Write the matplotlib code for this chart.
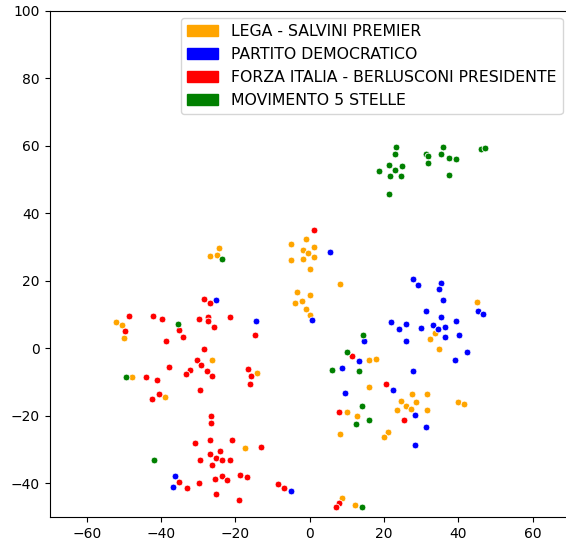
import matplotlib
matplotlib.use("Agg")
import matplotlib.pyplot as plt
import matplotlib.patches as mpatches

PARTITI = [
    "LEGA - SALVINI PREMIER",
    "PARTITO DEMOCRATICO",
    "FORZA ITALIA - BERLUSCONI PRESIDENTE",
    "MOVIMENTO 5 STELLE",
]
COLORI = ["orange", "blue", "red", "green"]

# coordinate t-SNE
lega_x = [-24.3, -26.9, -25.0, -52.2, -50.4, -49.9, -26.2, -14.1, -47.8, -38.9, -17.3,
          -1.0, -5.0, 1.3, -1.8, -0.5, 1.3, -5.0, -1.8, 0.2, 8.1, -3.4, 0.2, -2.0, -3.9, -0.9, 0.0,
          16.0, 17.9, 16.1, 27.5, 31.7, 24.7, 28.6, 25.9, 27.2, 23.4, 31.7, 40.0, 41.5, 10.2, 12.8,
          8.2, 21.0, 20.0, 8.6, 12.2, 33.7, 32.3, 34.8, 45.1]
lega_y = [29.8, 27.5, 27.7, 7.9, 7.0, 3.0, -3.6, -7.4, -8.5, -14.4, -29.5,
          32.3, 30.8, 29.9, 29.2, 28.2, 27.0, 26.3, 26.4, 23.6, 19.0, 16.6, 15.7, 13.9, 13.3, 11.8, 10.0,
          -3.6, -3.3, -11.5, -13.4, -13.5, -15.7, -16.0, -17.1, -17.9, -18.3, -18.4, -16.0, -16.5, -18.9, -20.1,
          -25.3, -24.7, -26.2, -44.3, -46.5, 4.6, 2.9, -0.1, 13.6]

pd_x = [-25.2, -14.3, -36.2, -36.9, -5.1, 5.5, 0.6, 21.8, 24.1, 25.9, 25.9, 14.6, 13.2, 8.6,
        27.7, 9.6, 22.5, 28.5, 31.4, 28.5, 30.0, 33.3, 34.6, 36.5, 39.4, 36.4, 40.2, 42.4, 39.2,
        27.7, 29.1, 35.3, 34.7, 35.9, 45.2, 46.8, 31.3, 35.5]
pd_y = [14.2, 8.0, -37.8, -41.1, -42.4, 28.6, 8.3, 7.7, 5.8, 7.2, 2.1, 2.3, -3.9, -5.8,
        -6.8, -13.2, -12.4, -19.9, -23.2, -28.7, 6.1, 7.0, 5.6, 6.2, 8.0, 3.4, 3.9, -1.2, -3.6,
        20.5, 18.9, 19.4, 17.7, 14.3, 11.2, 10.2, 11.1, 9.2]

fi_x = [-28.4, -26.8, -48.7, -42.2, -39.7, -49.7, -35.2, -34.1, -38.6, -29.7, -27.4, -27.4, -25.6,
        -21.5, -14.8, -28.3, -30.4, -29.1, -37.9, -32.2, -33.4, -27.6, -26.2, -16.5, -15.7, -16.1,
        -44.0, -41.1, -29.5, -40.5, -42.5,
        -26.6, -26.6, -30.8, -26.7, -20.9, -13.2, -24.1, -26.7, -25.1, -23.5, -21.4, -29.5, -26.3,
        -35.2, -33.0, -29.7, -25.4, -23.6, -22.2, -18.6, -16.8, -25.2, -18.9, -8.5, -6.8,
        1.2, 11.4, 20.6, 25.4, 7.9, 8.0, 7.2]
fi_y = [14.5, 13.4, 9.7, 9.6, 8.8, 5.0, 5.5, 3.4, 2.1, 8.7, 9.2, 8.1, 6.3,
        9.4, 3.8, -0.2, -3.5, -4.8, -5.4, -6.5, -7.6, -6.8, -8.1, -6.0, -8.1, -10.6,
        -8.5, -9.3, -12.3, -13.6, -15.0,
        -20.2, -22.2, -28.2, -27.3, -27.1, -29.2, -30.3, -31.4, -32.4, -33.1, -33.1, -33.1, -34.6,
        -39.6, -41.5, -39.9, -38.8, -37.8, -39.1, -37.7, -38.2, -43.3, -44.9, -40.2, -41.3,
        35.2, -2.3, -10.7, -21.3, -18.9, -45.9, -46.9]

m5s_x = [-23.6, -35.5, -49.5, -41.9, 14.3, 10.1, 6.0, 13.4, 14.1, 16.0, 12.5, 14.1,
         23.3, 22.9, 21.5, 24.9, 22.9, 18.6, 21.7, 24.6, 21.4, 31.2, 31.8, 31.8,
         35.9, 35.4, 37.5, 39.3, 37.5, 46.0, 47.2]
m5s_y = [26.4, 7.2, -8.5, -33.1, 4.0, -1.0, -6.4, -6.8, -17.1, -21.2, -22.3, -47.1,
         59.7, 57.6, 54.4, 54.1, 53.0, 52.7, 51.2, 51.2, 45.6, 57.7, 56.9, 54.8,
         59.7, 57.7, 56.4, 56.2, 51.5, 59.0, 59.3]


def grafico_tsne():
    fig = plt.figure(figsize=(5.66, 5.48), dpi=100)
    # l'asse esce leggermente a destra, come nell'immagine originale ritagliata
    ax = fig.add_axes([0.0875, 0.0566, 0.919, 0.9234])

    serie = [(lega_x, lega_y), (pd_x, pd_y), (fi_x, fi_y), (m5s_x, m5s_y)]
    for (xs, ys), col in zip(serie, COLORI):
        ax.scatter(xs, ys, s=24, c=col, edgecolors="white", linewidths=0.6)

    ax.set_xlim(-70, 70)
    ax.set_ylim(-50, 100)

    handles = [mpatches.Patch(color=c, label=p) for p, c in zip(PARTITI, COLORI)]
    ax.legend(handles=handles, loc="upper right", fontsize=11.3, borderaxespad=0.45)

    fig.savefig("out.png", dpi=100)
    plt.close(fig)


if __name__ == "__main__":
    grafico_tsne()
